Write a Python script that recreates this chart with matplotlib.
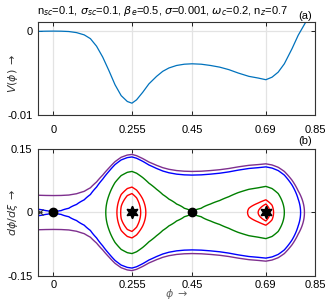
import matplotlib
matplotlib.use('Agg')
import matplotlib.pyplot as plt
import numpy as np

plt.rcParams['font.family'] = ['Liberation Sans', 'DejaVu Sans']
plt.rcParams['mathtext.fontset'] = 'dejavusans'

# potential V(phi)
phi = [-0.05, -0.025, 0.0, 0.025, 0.05, 0.075, 0.1, 0.12, 0.14, 0.16, 0.18,
       0.20, 0.22, 0.24, 0.255, 0.27, 0.29, 0.31, 0.335, 0.355, 0.375, 0.40,
       0.425, 0.45, 0.48, 0.51, 0.54, 0.57, 0.60, 0.635, 0.665, 0.69, 0.71,
       0.73, 0.75, 0.775, 0.795, 0.82, 0.84]
V = [-0.00003, -0.00001, 0.0, -0.00001, -0.00005, -0.00018, -0.00045, -0.0009,
     -0.0018, -0.0031, -0.0047, -0.0064, -0.0077, -0.0084, -0.0086, -0.0082,
     -0.0073, -0.0063, -0.0054, -0.0048, -0.0044, -0.0041, -0.00395, -0.0039,
     -0.00395, -0.0041, -0.0043, -0.0046, -0.0050, -0.0054, -0.0056, -0.0058,
     -0.0055, -0.0049, -0.0039, -0.0021, -0.0005, 0.0011, 0.0025]

# energy levels of the orbits in panel (b)
lev_purple = [0.0008]
lev_blue = [0.0]
lev_green = [-0.0039]
lev_red_left = [-0.0076, -0.0068]
lev_red_right = [-0.0056, -0.00535]

saddles = [0.0, 0.45]
centers = [0.255, 0.69]

xticks = [0, 0.255, 0.45, 0.69, 0.85]
xticklabels = ['0', '0.255', '0.45', '0.69', '0.85']

fig = plt.figure(figsize=(3.31, 3.04), dpi=100)
ax1 = fig.add_axes([0.115, 0.622, 0.837, 0.306])
ax2 = fig.add_axes([0.115, 0.092, 0.837, 0.418])

for ax in (ax1, ax2):
    ax.set_xlim(-0.05, 0.85)
    ax.set_xticks(xticks)
    ax.set_xticklabels(xticklabels)
    ax.grid(True, color='#e3e3e3', lw=0.9)
    ax.set_axisbelow(True)
    ax.tick_params(direction='in', top=True, right=True, labelsize=8,
                   length=3, width=0.6)
    ax.tick_params(axis='y', pad=4)
    for s in ax.spines.values():
        s.set_linewidth(0.8)
        s.set_color('#333333')
ax1.tick_params(axis='x', pad=7)
ax2.tick_params(axis='x', pad=3)

# panel (a)
ax1.plot(phi, V, color='#0072BD', lw=0.9)
ax1.set_ylim(-0.01, 0.0011)
ax1.set_yticks([-0.01, 0])
ax1.set_yticklabels(['-0.01', '0'])
ax1.set_ylabel(r'$V(\phi)$ $\rightarrow$', fontsize=8, color='#333333')
ax1.yaxis.set_label_coords(-0.065, 0.45)

# panel (b): level curves of 0.5*y^2 + V(phi)
pg = np.linspace(-0.05, 0.85, 900)
yg = np.linspace(-0.15, 0.15, 601)
P, Y = np.meshgrid(pg, yg)
E = 0.5 * Y ** 2 + np.interp(P, phi, V)

kw = dict(linestyles='solid', linewidths=1.0)
ax2.contour(P, Y, E, levels=lev_purple, colors='#7E2F8E', **kw)
ax2.contour(P, Y, E, levels=lev_blue, colors='#0000FF', **kw)
ax2.contour(P, Y, E, levels=lev_green, colors='#008000', **kw)
left = P < 0.45
ax2.contour(P, Y, np.where(left, E, np.nan), levels=lev_red_left, colors='#FF0000', **kw)
ax2.contour(P, Y, np.where(~left, E, np.nan), levels=lev_red_right, colors='#FF0000', **kw)

ax2.plot(saddles, [0, 0], 'o', color='k', ms=6)
ax2.plot(centers, [0, 0], color='k', marker=(6, 1, 0), ls='none', ms=9)
ax2.plot([-0.045], [0], 'x', color='#333333', ms=4, mew=0.8)

ax2.set_ylim(-0.15, 0.15)
ax2.set_yticks([-0.15, 0, 0.15])
ax2.set_yticklabels(['-0.15', '0', '0.15'])
ax2.set_ylabel(r'$d\phi/d\xi$ $\rightarrow$', fontsize=8, color='#333333')
ax2.yaxis.set_label_coords(-0.065, 0.5)
ax2.set_xlabel(r'$\phi$ $\rightarrow$', fontsize=8, labelpad=-2, color='#666666')

fig.text(0.49, 0.965,
         r'n$_{sc}$=0.1, $\sigma_{sc}$=0.1, $\beta_e$=0.5, $\sigma$=0.001, $\omega_c$=0.2, n$_z$=0.7',
         ha='center', va='center', fontsize=8)
fig.text(0.921, 0.948, '(a)', ha='center', va='center', fontsize=8)
fig.text(0.921, 0.537, '(b)', ha='center', va='center', fontsize=8)

fig.savefig('out.png', dpi=100)
